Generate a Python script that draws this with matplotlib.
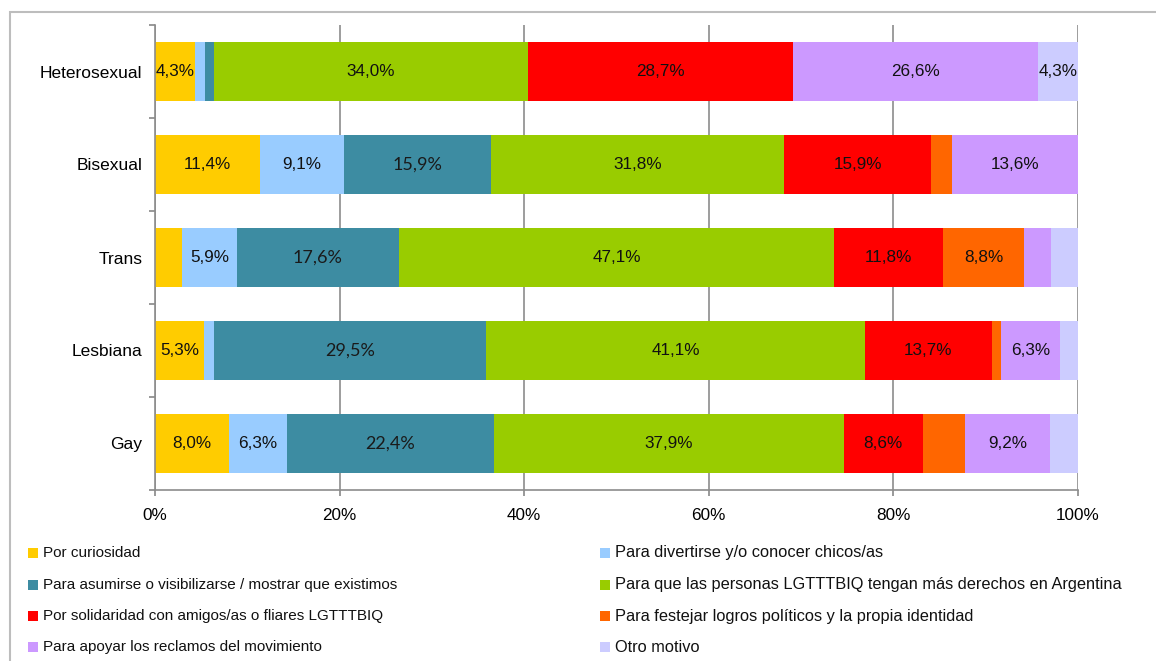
import matplotlib
matplotlib.use("Agg")
import matplotlib.pyplot as plt
from matplotlib.patches import Rectangle
import numpy as np

plt.rcParams['font.family'] = ['Liberation Sans', 'DejaVu Sans']

# categorias (de arriba hacia abajo)
categorias = ["Heterosexual", "Bisexual", "Trans", "Lesbiana", "Gay"]

# motivos y valores (%) por categoria
motivos = [
    "Por curiosidad",
    "Para divertirse y/o conocer chicos/as",
    "Para asumirse o visibilizarse / mostrar que existimos",
    "Para que las personas LGTTTBIQ tengan más derechos en Argentina",
    "Por solidaridad con amigos/as o fliares LGTTTBIQ",
    "Para festejar logros políticos y la propia identidad",
    "Para apoyar los reclamos del movimiento",
    "Otro motivo",
]
curiosidad = [4.3, 11.4, 2.95, 5.3, 8.0]
divertirse = [1.1, 9.1, 5.9, 1.05, 6.3]
asumirse = [1.0, 15.9, 17.6, 29.5, 22.4]
derechos = [34.0, 31.8, 47.1, 41.1, 37.9]
solidaridad = [28.7, 15.9, 11.8, 13.7, 8.6]
festejar = [0.0, 2.3, 8.8, 1.05, 4.6]
apoyar = [26.6, 13.6, 2.95, 6.3, 9.2]
otro = [4.3, 0.0, 2.95, 2.1, 3.0]

# que segmentos llevan etiqueta (1 = si)
mostrar_curiosidad = [1, 1, 0, 1, 1]
mostrar_divertirse = [0, 1, 1, 0, 1]
mostrar_asumirse = [0, 1, 1, 1, 1]
mostrar_derechos = [1, 1, 1, 1, 1]
mostrar_solidaridad = [1, 1, 1, 1, 1]
mostrar_festejar = [0, 0, 1, 0, 0]
mostrar_apoyar = [1, 1, 0, 1, 1]
mostrar_otro = [1, 0, 0, 0, 0]

colores = ["#FFCC00", "#99CCFF", "#3D8CA2", "#99CC00",
           "#FF0000", "#FF6600", "#CC99FF", "#CCCCFF"]

series = [curiosidad, divertirse, asumirse, derechos,
          solidaridad, festejar, apoyar, otro]
mascaras = [mostrar_curiosidad, mostrar_divertirse, mostrar_asumirse,
            mostrar_derechos, mostrar_solidaridad, mostrar_festejar,
            mostrar_apoyar, mostrar_otro]

W, H = 1156, 661
fig = plt.figure(figsize=(W / 100, H / 100), dpi=100)
ax = fig.add_axes([155 / W, 1 - 490 / H, (1078 - 155) / W, 465 / H])

y = np.arange(len(categorias))
izq = np.zeros(len(categorias))
for i, vals in enumerate(series):
    vals = np.array(vals)
    ax.barh(y, vals, left=izq, height=0.64, color=colores[i], linewidth=0, zorder=3)
    for j, v in enumerate(vals):
        if mascaras[i][j]:
            txt = f"{v:.1f}".replace(".", ",") + "%"
            if i == 2:
                ax.text(izq[j] + v / 2, y[j], txt, ha="center", va="center",
                        fontsize=13, color="#1a1a1a", family=["Lato", "DejaVu Sans"], zorder=4)
            else:
                ax.text(izq[j] + v / 2, y[j], txt, ha="center", va="center",
                        fontsize=12.3, color="#111111", zorder=4)
    izq += vals

ax.set_xlim(0, 100)
ax.set_ylim(len(categorias) - 0.5, -0.5)
ax.set_xticks(np.arange(0, 101, 20))
ax.set_xticklabels([f"{t}%" for t in range(0, 101, 20)], fontsize=12.3)
ax.set_yticks(y)
ax.set_yticklabels(categorias, fontsize=12.5)
ax.set_yticks(np.arange(-0.5, len(categorias), 1), minor=True)
ax.tick_params(axis="y", which="major", length=0, pad=9)
ax.tick_params(axis="y", which="minor", length=4, color="#888888", width=1.2)
ax.tick_params(axis="x", length=4, color="#888888", width=1.2, pad=9)
ax.grid(axis="x", color="#8C8C8C", linewidth=1.2, zorder=0)
for s in ["top", "right"]:
    ax.spines[s].set_visible(False)
for s in ["left", "bottom"]:
    ax.spines[s].set_color("#8C8C8C")
    ax.spines[s].set_linewidth(1.2)
    ax.spines[s].set_zorder(5)

# marco exterior
fig.patches.append(Rectangle((10 / W, -0.05), 1.1, 1 - 12 / H + 0.05,
                             transform=fig.transFigure, fill=False,
                             edgecolor="#BDBDBD", linewidth=1.5))

# leyenda en dos columnas
col_x = [28, 600]
col_fs = [11, 11.8]
fila_y = [553, 585, 616, 647]
for k, m in enumerate(motivos):
    cx = col_x[k % 2]
    cy = fila_y[k // 2]
    fig.patches.append(Rectangle((cx / W, 1 - (cy + 5) / H), 10 / W, 10 / H,
                                 transform=fig.transFigure, color=colores[k], linewidth=0))
    fig.text((cx + 15) / W, 1 - cy / H, m, fontsize=col_fs[k % 2], va="center",
             ha="left", color="#111111")

fig.savefig("out.png", dpi=100)
